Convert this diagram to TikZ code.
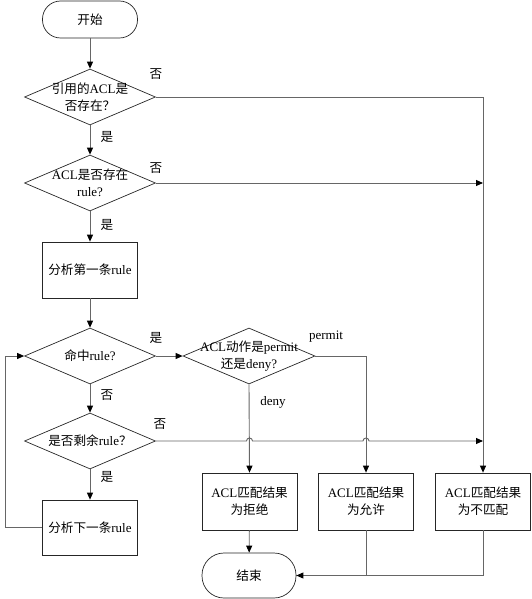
\documentclass[tikz,border=0pt]{standalone}
\usepackage{fontspec}
\setmainfont{Liberation Serif}
\newfontfamily\cjk{Noto Sans CJK SC}[Scale=0.97]
\usetikzlibrary{shapes.geometric,arrows.meta,calc}
\newcommand{\zh}[1]{{\cjk #1}}
\begin{document}
\begin{tikzpicture}[x=1pt,y=-1pt,
  every node/.style={font=\fontsize{13}{17}\selectfont},
  term/.style={draw=black!85,line width=0.7pt,rounded corners=18pt,minimum width=95pt,minimum height=37pt,inner sep=0pt},
  box/.style={draw=black!85,line width=0.7pt,minimum width=95pt,minimum height=57pt,inner sep=0pt,align=center},
  dia/.style={draw=black!85,line width=0.7pt,diamond,minimum width=131pt,minimum height=56pt,inner sep=0pt},
  txt/.style={align=center,inner sep=0pt},
  lab/.style={inner sep=0pt},
  ln/.style={draw=black!60,line width=0.9pt},
  arr/.style={ln,-{Triangle[length=7pt,width=6pt,color=black]}}]
\useasboundingbox (0,0) rectangle (531,599);
% shapes
\node[term] (start) at (90,19.5) {\zh{开始}};
\node[dia] (d1) at (90,97) {};
\node[txt] (t1) at (90,97) {\zh{引用的}ACL\zh{是}\\\zh{否存在？}};
\node[dia] (d2) at (90,183) {};
\node[txt] (t2) at (90,183) {ACL\zh{是否存在}\\rule?};
\node[box,minimum height=56pt] (b1) at (90,270) {\zh{分析第一条}rule};
\node[dia] (d3) at (90,356) {};
\node[txt] (t3) at (90,356) {\zh{命中}rule?};
\node[dia] (d4) at (90,441) {};
\node[txt] (t4) at (90,441) {\zh{是否剩余}rule\zh{？}};
\node[box,minimum height=55pt] (b2) at (90,527.5) {\zh{分析下一条}rule};
\node[dia,minimum width=132pt] (d5) at (249,356) {};
\node[txt] (t5) at (249,356) {ACL\zh{动作是}permit\\\zh{还是}deny?};
\node[box] (r1) at (249.5,501.5) {ACL\zh{匹配结果}\\\zh{为拒绝}};
\node[box] (r2) at (366,501.5) {ACL\zh{匹配结果}\\\zh{为允许}};
\node[box] (r3) at (483,501.5) {ACL\zh{匹配结果}\\\zh{为不匹配}};
\node[term,minimum width=94pt,minimum height=45pt,rounded corners=22pt] (end) at (249,575.5) {\zh{结束}};
% connectors
\draw[arr] (start) -- (d1);
\draw[arr] (d1) -- (d2);
\draw[arr] (d2) -- (b1);
\draw[arr] (b1) -- (d3);
\draw[arr] (d3) -- (d4);
\draw[arr] (d4) -- (b2);
\draw[arr] (b2.west) -- ++(-37,0) |- (d3.west);
\draw[arr] (d3.east) -- (d5.west);
\draw[arr] (d5.east) -| (r2.north);
\draw[arr] (d5.south) -- (r1.north);
\draw[arr] (d1.east) -| (r3.north);
\coordinate (j2) at (r3.north |- d2.east);
\coordinate (j4) at (r3.north |- d4.east);
\draw[arr] (d2.east) -- (j2);
\draw[arr] (d4.east) -- ($(r1.north |- d4.east)+(-3,0)$) arc[start angle=180,end angle=0,radius=3pt]
  -- ($(r2.north |- d4.east)+(-3,0)$) arc[start angle=180,end angle=0,radius=3pt] -- (j4);
\draw[arr] (r1) -- (end);
\draw[ln] (r3.south) |- (end.east);
\draw[arr] (r2.south) |- (end.east);
% labels
\node[lab] (l1) at (156,74) {\zh{否}};
\node[lab] (l2) at (107,137) {\zh{是}};
\node[lab] (l3) at (156,168) {\zh{否}};
\node[lab] (l4) at (107,225) {\zh{是}};
\node[lab] (l5) at (156,338) {\zh{是}};
\node[lab] (l6) at (107,395) {\zh{否}};
\node[lab] (l7) at (160,424) {\zh{否}};
\node[lab] (l8) at (107,477) {\zh{是}};
\node[lab] (l9) at (326,337) {permit};
\node[lab] (l10) at (273,402) {deny};
\end{tikzpicture}
\end{document}
